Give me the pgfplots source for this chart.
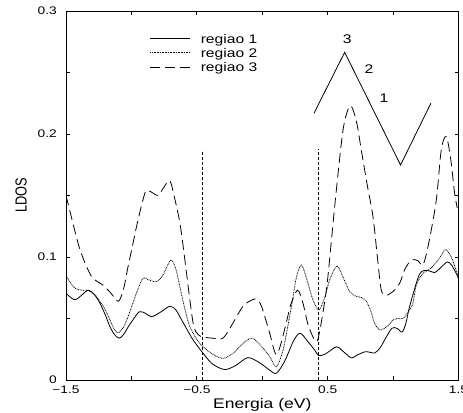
\documentclass[border=0pt]{standalone}
\usepackage{fontspec}
\setmainfont{Liberation Sans}[FakeStretch=1.25]
\newfontfamily\labfont{Liberation Sans}[FakeStretch=0.8]
\usepackage{pgfplots}
\pgfplotsset{compat=1.18}

\begin{document}
\begin{tikzpicture}
\begin{axis}[
  scale only axis, width=392.5bp, height=369bp,
  xmin=-1.5, xmax=1.5, ymin=0, ymax=0.3,
  axis line style={line width=0.9bp},
  tick align=inside, major tick length=4bp,
  tick style={line width=0.7bp, black},
  xtick={-1.5,-1,-0.5,0,0.5,1,1.5},
  xticklabels={−1.5,,−0.5,,0.5,,1.5},
  ytick={0,0.05,0.1,0.15,0.2,0.25,0.3},
  yticklabels={0,,0.1,,0.2,,0.3},
  ticklabel style={font=\fontsize{11bp}{13bp}\selectfont},
  xticklabel style={anchor=base, yshift=-13bp},
  yticklabel style={anchor=east, inner sep=0pt, xshift=-9bp},
  xlabel={Energia (eV)}, ylabel={\labfont LDOS},
  every axis x label/.style={at={(rel axis cs:0.5,0)}, anchor=base, yshift=-28bp,
    font=\fontsize{14bp}{16bp}\selectfont},
  every axis y label/.style={at={(rel axis cs:0,0.5)}, anchor=center,
    xshift=-45bp, rotate=90, font=\fontsize{16bp}{18bp}\selectfont},
  legend style={draw=none, fill=none, at={(axis cs:-0.858,0.2835)}, anchor=north west,
    inner sep=0pt, outer sep=0pt, row sep=0pt,
    font=\fontsize{12.5bp}{14bp}\selectfont,
    nodes={inner sep=0pt, text height=12bp, text depth=2.3bp},
    /tikz/every odd column/.append style={column sep=10bp}},
  legend cell align=left,
  legend image code/.code={\draw[#1] (0bp,0bp) -- (40bp,0bp);},
  every axis plot/.append style={line width=0.8bp, black, smooth, tension=0.5},
]

% regiao 1
\addplot[solid] coordinates {
(-1.5,0.0705) (-1.45,0.066) (-1.42,0.0656) (-1.38,0.069) (-1.33,0.073)
(-1.28,0.069) (-1.24,0.0623) (-1.2,0.053) (-1.164,0.0434) (-1.13,0.037)
(-1.093,0.034) (-1.06,0.037) (-1.02,0.044) (-0.998,0.0474) (-0.94,0.0555)
(-0.89,0.054) (-0.846,0.0515) (-0.78,0.055) (-0.706,0.060) (-0.66,0.057)
(-0.63,0.0515) (-0.58,0.042) (-0.528,0.0325) (-0.452,0.0217) (-0.38,0.013)
(-0.286,0.0085) (-0.2,0.012) (-0.11,0.0182) (-0.02,0.014) (0.057,0.008)
(0.108,0.0055) (0.17,0.015) (0.24,0.032) (0.29,0.038) (0.35,0.031)
(0.401,0.0244) (0.43,0.020) (0.48,0.021) (0.566,0.027) (0.61,0.024)
(0.68,0.018) (0.72,0.020) (0.79,0.023) (0.859,0.022) (0.9,0.026)
(0.935,0.0325) (0.99,0.042) (1.03,0.042) (1.07,0.039) (1.1,0.047)
(1.126,0.0596) (1.202,0.086) (1.266,0.089) (1.317,0.0873) (1.37,0.092)
(1.415,0.096) (1.45,0.093) (1.49,0.085) (1.5,0.082)
};
\addlegendentry{regiao 1}

% regiao 2
\addplot[dash pattern=on 0.8bp off 0.8bp] coordinates {
(-1.5,0.085) (-1.46,0.078) (-1.43,0.0745) (-1.38,0.073) (-1.34,0.073)
(-1.3,0.071) (-1.266,0.0678) (-1.21,0.059) (-1.164,0.0488) (-1.13,0.041)
(-1.10,0.0385) (-1.06,0.043) (-1.02,0.053) (-0.998,0.0596) (-0.95,0.074)
(-0.91,0.0827) (-0.86,0.081) (-0.808,0.080) (-0.76,0.085) (-0.72,0.094)
(-0.693,0.0976) (-0.66,0.090) (-0.63,0.0759) (-0.59,0.057) (-0.553,0.0434)
(-0.5,0.033) (-0.452,0.027) (-0.38,0.021) (-0.3,0.0176) (-0.22,0.022)
(-0.147,0.0298) (-0.08,0.034) (-0.02,0.029) (0.057,0.019) (0.108,0.0108)
(0.16,0.025) (0.223,0.0596) (0.26,0.083) (0.299,0.0935) (0.34,0.082)
(0.388,0.065) (0.434,0.057) (0.48,0.068) (0.515,0.0813) (0.571,0.0927)
(0.62,0.083) (0.668,0.0718) (0.72,0.068) (0.76,0.067) (0.795,0.064)
(0.83,0.056) (0.859,0.046) (0.9,0.0407) (0.96,0.044) (1.0,0.0488)
(1.04,0.050) (1.075,0.050) (1.12,0.056) (1.151,0.0623) (1.177,0.077)
(1.228,0.0867) (1.291,0.091) (1.355,0.099) (1.40,0.106) (1.44,0.101)
(1.47,0.093) (1.5,0.084)
};
\addlegendentry{regiao 2}

% regiao 3
\addplot[dash pattern=on 10bp off 5bp] coordinates {
(-1.5,0.150) (-1.46,0.133) (-1.42,0.116) (-1.393,0.106) (-1.35,0.094)
(-1.304,0.084) (-1.26,0.080) (-1.215,0.077) (-1.16,0.071) (-1.10,0.064)
(-1.06,0.074) (-1.03,0.090) (-0.998,0.106) (-0.95,0.130) (-0.897,0.152)
(-0.872,0.154) (-0.835,0.152) (-0.795,0.150) (-0.75,0.157) (-0.706,0.162)
(-0.67,0.148) (-0.63,0.128) (-0.6,0.105) (-0.579,0.087) (-0.528,0.046)
(-0.49,0.037) (-0.452,0.035) (-0.38,0.034) (-0.30,0.034) (-0.22,0.047)
(-0.147,0.060) (-0.08,0.065) (-0.044,0.0656) (-0.006,0.060) (0.057,0.038)
(0.1,0.0215) (0.13,0.025) (0.18,0.045) (0.22,0.062) (0.27,0.073)
(0.31,0.063) (0.35,0.045) (0.401,0.0325) (0.43,0.035) (0.49,0.073)
(0.53,0.115) (0.566,0.154) (0.62,0.205) (0.673,0.223) (0.72,0.210)
(0.757,0.187) (0.80,0.160) (0.846,0.133) (0.88,0.100) (0.91,0.073)
(0.948,0.069) (1.0,0.072) (1.05,0.0786) (1.09,0.090) (1.14,0.0976)
(1.19,0.097) (1.228,0.0935) (1.27,0.110) (1.33,0.146) (1.368,0.187)
(1.406,0.198) (1.44,0.180) (1.47,0.152) (1.49,0.140)
};
\addlegendentry{regiao 3}

% limites das regioes
\addplot[sharp plot, line width=0.7bp, dash pattern=on 3bp off 2bp, forget plot]
  coordinates {(-0.46,0) (-0.46,0.187)};
\addplot[sharp plot, line width=0.7bp, dash pattern=on 3bp off 2bp, forget plot]
  coordinates {(0.43,0) (0.43,0.188)};

% zigue-zague
\addplot[sharp plot, solid, forget plot]
  coordinates {(0.395,0.2168) (0.630,0.2664) (1.057,0.1748) (1.289,0.225)};
\node[font=\fontsize{12.5bp}{14bp}\selectfont] at (axis cs:0.650,0.277) {3};
\node[font=\fontsize{12.5bp}{14bp}\selectfont] at (axis cs:0.815,0.2526) {2};
\node[font=\fontsize{12.5bp}{14bp}\selectfont] at (axis cs:0.930,0.229) {1};
\end{axis}
\pgfresetboundingbox
\path[use as bounding box] ([shift={(-66bp,-33bp)}]current axis.south west)
  rectangle ([shift={(4.5bp,11bp)}]current axis.north east);
\end{tikzpicture}
\end{document}
